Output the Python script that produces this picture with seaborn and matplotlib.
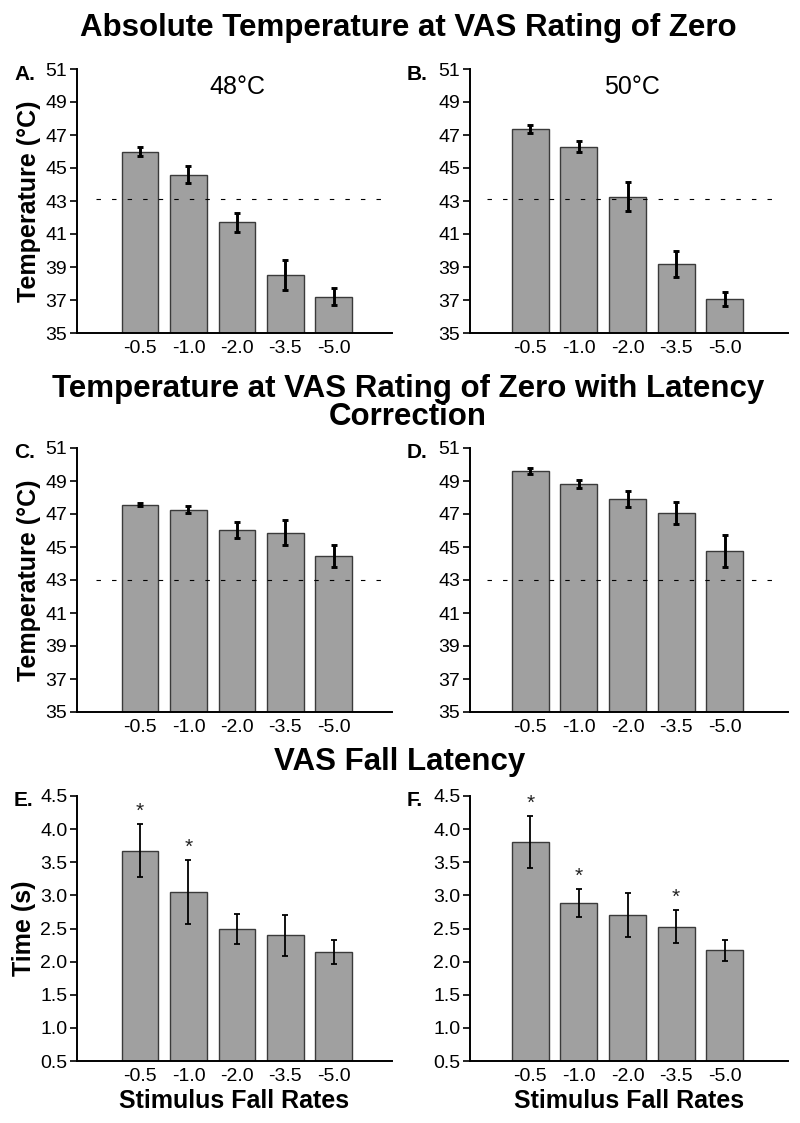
import numpy as np
import pandas as pd
import matplotlib
matplotlib.use('Agg')
import matplotlib.pyplot as plt
import seaborn as sns

# Stimulus fall rates (x categories)
RATES = ['-0.5', '-1.0', '-2.0', '-3.5', '-5.0']

# A / B: absolute temperature at VAS zero (48 and 50 degC)
A_MEAN = [46.0, 44.6, 41.7, 38.5, 37.2]
A_ERR = [0.3, 0.5, 0.58, 0.9, 0.53]
B_MEAN = [47.35, 46.3, 43.25, 39.2, 37.05]
B_ERR = [0.25, 0.35, 0.88, 0.8, 0.44]

# C / D: with latency correction
C_MEAN = [47.57, 47.27, 46.02, 45.87, 44.48]
C_ERR = [0.08, 0.2, 0.48, 0.75, 0.67]
D_MEAN = [49.6, 48.83, 47.9, 47.07, 44.78]
D_ERR = [0.17, 0.25, 0.5, 0.68, 0.97]

# E / F: VAS fall latency (s)
E_MEAN = [3.675, 3.05, 2.49, 2.40, 2.15]
E_ERR = [0.4, 0.48, 0.23, 0.31, 0.18]
F_MEAN = [3.81, 2.89, 2.70, 2.53, 2.17]
F_ERR = [0.39, 0.21, 0.33, 0.245, 0.16]
E_SIG = [True, True, False, False, False]
F_SIG = [True, True, False, True, False]

TEMP_TICKS = [35, 37, 39, 41, 43, 45, 47, 49, 51]
TIME_TICKS = [0.5, 1.0, 1.5, 2.0, 2.5, 3.0, 3.5, 4.0, 4.5]
BASELINE = [43.1, 43.0]

sns.set_theme(style='ticks')
plt.rcParams['font.family'] = ['Liberation Sans', 'DejaVu Sans']
plt.rcParams['text.color'] = 'black'
plt.rcParams['axes.labelcolor'] = 'black'

W, H = 800, 1123
fig = plt.figure(figsize=(8, 11.23), dpi=100)


def px_axes(x0, x1, y0, y1):
    return fig.add_axes([x0 / W, 1 - y1 / H, (x1 - x0) / W, (y1 - y0) / H])


def draw_panel(ax, means, errs, ticks, xlim, thick=True, sig=None, ref=None,
               ylabel=None, xlabel=None, subtitle=None):
    df = pd.DataFrame({'rate': RATES, 'value': means})
    sns.barplot(data=df, x='rate', y='value', order=RATES, color='#a0a0a0',
                saturation=1, edgecolor='#3a3a3a', linewidth=1, width=0.76,
                errorbar=None, ax=ax, zorder=2)
    lw = 2.1 if thick else 1.3
    ax.errorbar(np.arange(len(RATES)), means, yerr=errs, fmt='none',
                ecolor='black', elinewidth=lw, capsize=2.2, capthick=lw,
                zorder=4)
    if ref is not None:
        ax.hlines(ref, -0.9, 5.05, colors='black', linewidth=0.8,
                  linestyles=(0, (4, 10)), zorder=3)
    if sig is not None:
        for i, s in enumerate(sig):
            if s:
                ax.text(i, means[i] + errs[i] + 0.05, '*', ha='center',
                        va='bottom', fontsize=15, color='#222222')
    ax.set_xlim(*xlim)
    ax.set_ylim(ticks[0], ticks[-1])
    ax.set_yticks(ticks)
    if ticks[0] < 10:
        ax.set_yticklabels([f'{t:.1f}' for t in ticks])
    ax.tick_params(axis='y', length=5, width=1.2, labelsize=14, pad=2,
                   color='black', labelcolor='black')
    ax.tick_params(axis='x', length=0, labelsize=14, pad=5,
                   labelcolor='black')
    for side in ['top', 'right']:
        ax.spines[side].set_visible(False)
    for side in ['left', 'bottom']:
        ax.spines[side].set_color('black')
        ax.spines[side].set_linewidth(1.4)
    ax.set_xlabel(xlabel if xlabel else '', fontsize=18, fontweight='bold',
                  labelpad=3)
    if ylabel:
        ax.set_ylabel(ylabel, fontsize=18, fontweight='bold', labelpad=3)
    else:
        ax.set_ylabel('')
    if subtitle:
        ax.text(0.51, 0.93, subtitle, transform=ax.transAxes, ha='center',
                va='center', fontsize=18)


LEFT_X = (77, 392)
RIGHT_X = (470, 788)
LEFT_LIM = (-1.3, 5.2)
RIGHT_LIM = (-1.24, 5.3)
ROWS = [(69, 333), (448, 712), (796, 1061)]

panels = [
    ('A.', LEFT_X, ROWS[0], A_MEAN, A_ERR, TEMP_TICKS, LEFT_LIM, dict(ref=BASELINE[0], ylabel='Temperature (°C)', subtitle='48°C')),
    ('B.', RIGHT_X, ROWS[0], B_MEAN, B_ERR, TEMP_TICKS, RIGHT_LIM, dict(ref=BASELINE[0], subtitle='50°C')),
    ('C.', LEFT_X, ROWS[1], C_MEAN, C_ERR, TEMP_TICKS, LEFT_LIM, dict(ref=BASELINE[1], ylabel='Temperature (°C)')),
    ('D.', RIGHT_X, ROWS[1], D_MEAN, D_ERR, TEMP_TICKS, RIGHT_LIM, dict(ref=BASELINE[1])),
    ('E.', LEFT_X, ROWS[2], E_MEAN, E_ERR, TIME_TICKS, LEFT_LIM, dict(thick=False, sig=E_SIG, ylabel='Time (s)', xlabel='Stimulus Fall Rates')),
    ('F.', RIGHT_X, ROWS[2], F_MEAN, F_ERR, TIME_TICKS, RIGHT_LIM, dict(thick=False, sig=F_SIG, xlabel='Stimulus Fall Rates')),
]

for letter, (x0, x1), (y0, y1), means, errs, ticks, lim, kw in panels:
    ax = px_axes(x0, x1, y0, y1)
    draw_panel(ax, means, errs, ticks, lim, **kw)
    lx = 14 if x0 < 400 else 407
    fig.text(lx / W, 1 - (y0 + 5) / H, letter, fontsize=15,
             fontweight='bold', ha='left', va='center')

# section titles
fig.text(0.51, 1 - 28 / H, 'Absolute Temperature at VAS Rating of Zero',
         ha='center', va='center', fontsize=22.5, fontweight='bold')
fig.text(0.51, 1 - 403 / H,
         'Temperature at VAS Rating of Zero with Latency\nCorrection',
         ha='center', va='center', fontsize=22.5, fontweight='bold',
         linespacing=0.95)
fig.text(0.5, 1 - 762 / H, 'VAS Fall Latency', ha='center', va='center',
         fontsize=22.5, fontweight='bold')

plt.savefig('out.png', dpi=100, facecolor='white')
plt.close()
